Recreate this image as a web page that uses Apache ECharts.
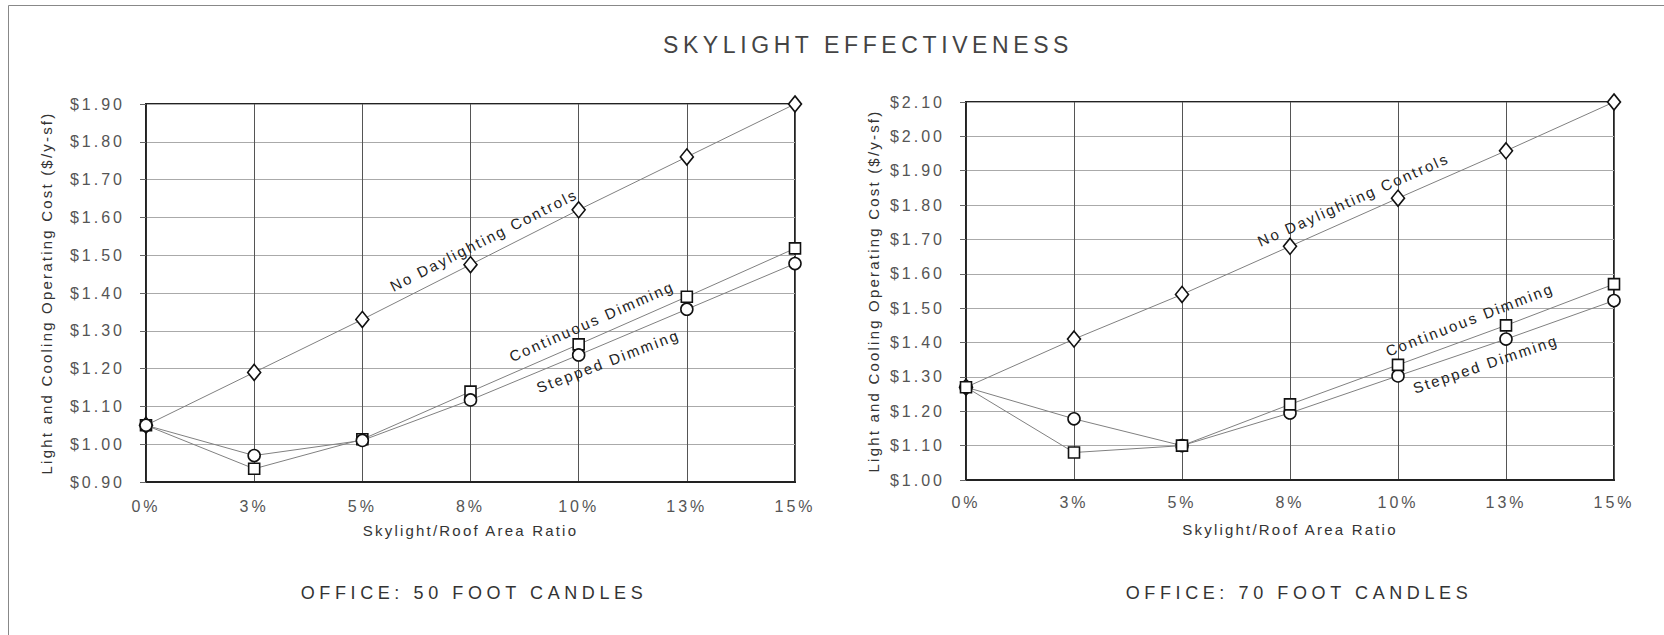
<!DOCTYPE html>
<html>
<head>
<meta charset="utf-8">
<title>Skylight Effectiveness</title>
<script src="https://cdn.jsdelivr.net/npm/echarts@6/dist/echarts.min.js"></script>
<style>
  html, body { margin: 0; padding: 0; background: #fff; }
  #chart { width: 1664px; height: 635px; }
  /* wide tracking of the typeset labels, keyed on font size */
  #chart text[style*="23px"] { letter-spacing: 4.6px; }
  #chart text[style*="18px"] { letter-spacing: 4.6px; }
  #chart text[style*="16px"] { letter-spacing: 3px; }
  #chart text[style*="15px"] { letter-spacing: 2.2px; }
</style>
</head>
<body>
<div id="chart"></div>
<script>
// Skylight-to-roof area ratios (x categories)
const ratioLabels = ['0%', '3%', '5%', '8%', '10%', '13%', '15%'];

// Office, 50 foot candles: light and cooling operating cost ($/y-sf)
const fc50NoControls  = [1.05, 1.19, 1.33, 1.475, 1.62, 1.76, 1.90];
const fc50Continuous  = [1.05, 0.935, 1.013, 1.139, 1.264, 1.39, 1.518];
const fc50Stepped     = [1.05, 0.97, 1.01, 1.117, 1.236, 1.357, 1.478];

// Office, 70 foot candles
const fc70NoControls  = [1.27, 1.41, 1.54, 1.68, 1.82, 1.958, 2.10];
const fc70Continuous  = [1.27, 1.08, 1.10, 1.22, 1.335, 1.45, 1.57];
const fc70Stepped     = [1.27, 1.178, 1.10, 1.195, 1.303, 1.41, 1.522];

// Cost axis ranges
const fc50Range = { min: 0.9, max: 1.9, step: 0.1 };
const fc70Range = { min: 1.0, max: 2.1, step: 0.1 };

const FONT = 'Liberation Sans, Arial, Helvetica, sans-serif';
const chart = echarts.init(document.getElementById('chart'), null, { renderer: 'svg' });

function xAxisFor(gridIndex, labelMargin, nameGap) {
  return {
    type: 'category', gridIndex, data: ratioLabels, boundaryGap: false,
    axisLine: { show: true, lineStyle: { color: '#222', width: 2 } },
    axisTick: { show: false },
    axisLabel: { interval: 0, margin: labelMargin, color: '#555', fontSize: 16, fontFamily: FONT },
    splitLine: { show: true, interval: 0, lineStyle: { color: '#555', width: 1 } },
    name: 'Skylight/Roof Area Ratio', nameLocation: 'middle', nameGap,
    nameTextStyle: { color: '#333', fontSize: 15, fontFamily: FONT }
  };
}

function yAxisFor(gridIndex, range, nameGap) {
  return {
    type: 'value', gridIndex, min: range.min, max: range.max, interval: range.step,
    axisLine: { show: true, lineStyle: { color: '#222', width: 1.5 } },
    axisTick: { show: true, length: 6, lineStyle: { color: '#666', width: 1 } },
    axisLabel: {
      margin: 21, color: '#555', fontSize: 16, fontFamily: FONT,
      formatter: v => '$' + v.toFixed(2)
    },
    splitLine: { show: true, lineStyle: { color: '#aaa', width: 1 } },
    name: 'Light and Cooling Operating Cost ($/y-sf)',
    nameLocation: 'middle', nameRotate: 90, nameGap,
    nameTextStyle: { color: '#333', fontSize: 15, fontFamily: FONT }
  };
}

function costLine(name, data, symbol, size, axisIndex, z) {
  return {
    type: 'line', name, data, xAxisIndex: axisIndex, yAxisIndex: axisIndex,
    symbol, symbolSize: size, showSymbol: true, z,
    lineStyle: { color: '#808080', width: 1 },
    itemStyle: { color: '#fff', borderColor: '#111', borderWidth: 1.6 },
    emphasis: { disabled: true }
  };
}

chart.setOption({
  animation: false,
  backgroundColor: '#fff',
  title: [
    { text: 'SKYLIGHT EFFECTIVENESS', left: 868, top: 33, textAlign: 'center', padding: 0,
      textStyle: { color: '#444', fontSize: 23, fontWeight: 'normal', fontFamily: FONT } },
    { text: 'OFFICE: 50 FOOT CANDLES', left: 474, top: 584, textAlign: 'center', padding: 0,
      textStyle: { color: '#333', fontSize: 18, fontWeight: 'normal', fontFamily: FONT } },
    { text: 'OFFICE: 70 FOOT CANDLES', left: 1299, top: 584, textAlign: 'center', padding: 0,
      textStyle: { color: '#333', fontSize: 18, fontWeight: 'normal', fontFamily: FONT } }
  ],
  grid: [
    { left: 146, top: 104, width: 649, height: 378, show: true, borderColor: '#222', borderWidth: 2 },
    { left: 966, top: 102, width: 648, height: 378, show: true, borderColor: '#222', borderWidth: 2 }
  ],
  xAxis: [xAxisFor(0, 16, 41), xAxisFor(1, 14, 42)],
  yAxis: [yAxisFor(0, fc50Range, 92), yAxisFor(1, fc70Range, 85)],
  series: [
    costLine('No Daylighting Controls', fc50NoControls, 'diamond', [13, 16], 0, 3),
    costLine('Continuous Dimming', fc50Continuous, 'rect', 11, 0, 4),
    costLine('Stepped Dimming', fc50Stepped, 'circle', 12, 0, 5),
    costLine('No Daylighting Controls', fc70NoControls, 'diamond', [13, 16], 1, 3),
    costLine('Stepped Dimming', fc70Stepped, 'circle', 12, 1, 4),
    costLine('Continuous Dimming', fc70Continuous, 'rect', 11, 1, 5)
  ]
});

// Curve captions laid along their lines: position as a fractional category
// index on the curve, a perpendicular lift (positive = above the line) and a
// small extra tilt in degrees.
const captions = [
  { grid: 0, text: 'No Daylighting Controls', curve: fc50NoControls, at: 3.19, lift: 16, tilt: 0 },
  { grid: 0, text: 'Continuous Dimming',      curve: fc50Continuous, at: 4.18, lift: 16, tilt: 0 },
  { grid: 0, text: 'Stepped Dimming',         curve: fc50Stepped,    at: 4.21, lift: -17, tilt: -2 },
  { grid: 1, text: 'No Daylighting Controls', curve: fc70NoControls, at: 3.65, lift: 17, tilt: 0 },
  { grid: 1, text: 'Continuous Dimming',      curve: fc70Continuous, at: 4.72, lift: 18, tilt: 1 },
  { grid: 1, text: 'Stepped Dimming',         curve: fc70Stepped,    at: 4.76, lift: -17, tilt: 0 }
];

const captionTexts = captions.map(c => {
  const i = Math.floor(c.at), t = c.at - i;
  const p0 = chart.convertToPixel({ gridIndex: c.grid }, [i, c.curve[i]]);
  const p1 = chart.convertToPixel({ gridIndex: c.grid }, [i + 1, c.curve[i + 1]]);
  const x = p0[0] + (p1[0] - p0[0]) * t;
  const y = p0[1] + (p1[1] - p0[1]) * t;
  const a = Math.atan2(p0[1] - p1[1], p1[0] - p0[0]);
  return {
    type: 'text', silent: true, z: 10,
    x: x - c.lift * Math.sin(a), y: y - c.lift * Math.cos(a),
    rotation: a + c.tilt * Math.PI / 180,
    style: { text: c.text, fill: '#222', fontSize: 15, fontFamily: FONT,
             align: 'center', verticalAlign: 'middle' }
  };
});

chart.setOption({
  graphic: [
    { type: 'rect', silent: true, z: -1,
      shape: { x: 8.5, y: 5.5, width: 1700, height: 700 },
      style: { fill: 'none', stroke: '#888', lineWidth: 1 } },
    ...captionTexts
  ]
});
</script>
</body>
</html>
